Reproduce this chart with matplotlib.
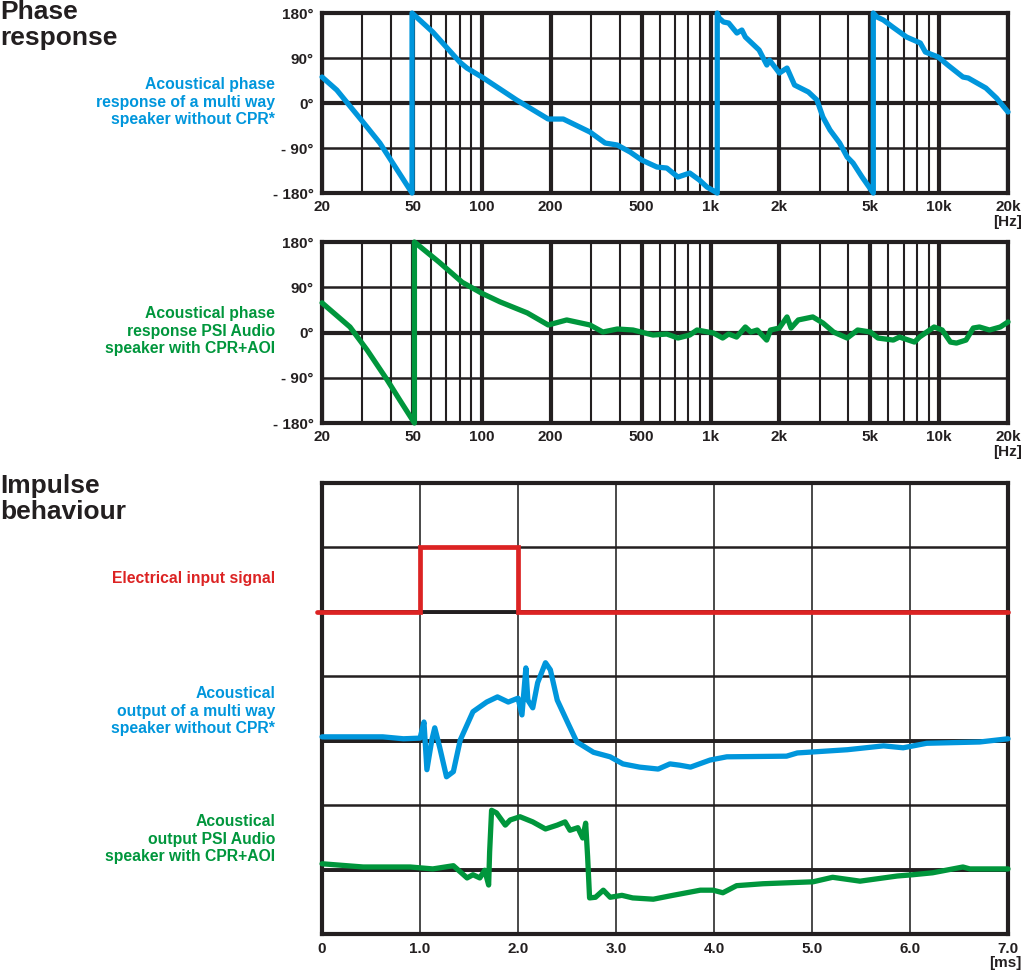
"""
Phase response and impulse behaviour chart (multi way speaker vs. PSI Audio CPR+AOI)
"""

import matplotlib
matplotlib.use('Agg')
import matplotlib.pyplot as plt

plt.rcParams['font.family'] = ['Liberation Sans', 'DejaVu Sans']
plt.rcParams['font.weight'] = 'bold'

INK = "#231f20"
BLUE = "#0096dc"
GREEN = "#00963c"
RED = "#dc2323"

# ---- phase response data (freq in Hz, phase in degrees) ----
freq_multi = [20, 23.2, 30.2, 35.8, 49.5, 49.5, 61, 80, 86, 100, 142, 195, 227,
              297, 346, 391, 445, 500, 583, 644, 720, 811, 894, 965, 1070, 1070,
              1090, 1140, 1200, 1304, 1371, 1420, 1631, 1763, 1810, 2000, 2160,
              2330, 2680, 2920, 3100, 3330, 3670, 3960, 4200, 4600, 5150, 5150,
              5350, 5700, 6260, 7200, 8270, 8700, 9900, 10900, 12700, 13400,
              16000, 17800, 20000]
phase_multi = [52, 26, -38, -80, -180, 180, 142, 82, 70, 52, 6, -32, -32,
               -58, -80, -84, -98, -114, -128, -130, -148, -140, -154, -168, -180, 180,
               170, 162, 160, 140, 146, 132, 106, 76, 86, 60, 70,
               36, 22, 6, -28, -54, -80, -108, -120, -148, -180, 180,
               172, 166, 152, 132, 120, 102, 92, 76, 52, 50,
               30, 10, -18]

freq_psi = [20, 26.5, 31.5, 38.5, 43.7, 50.7, 50.7, 65, 82, 100, 120, 158, 195,
            235, 297, 338, 391, 458, 560, 644, 720, 811, 873, 1030, 1130, 1200,
            1300, 1420, 1500, 1600, 1760, 1830, 2000, 2160, 2250, 2420, 2800,
            3100, 3450, 3960, 4400, 5000, 5400, 6300, 6700, 7800, 8200, 9500,
            10300, 11200, 11900, 13100, 14100, 15000, 16600, 18500, 20000]
phase_psi = [59, 11, -35, -94, -134, -180, 180, 140, 100, 78, 61, 39, 15,
             25, 15, 1, 7, 5, -5, -3, -11, -5, 5, -1, -11, -3,
             -9, 11, 1, 5, -15, 5, 9, 31, 9, 25, 31,
             19, 1, -11, 5, 1, -11, -15, -9, -19, -9, 11,
             5, -19, -21, -15, 9, 11, 5, 11, 21]

freq_ticks = [20, 50, 100, 200, 500, 1000, 2000, 5000, 10000, 20000]
freq_labels = ["20", "50", "100", "200", "500", "1k", "2k", "5k", "10k", "20k"]
freq_minor = [30, 40, 60, 70, 80, 90, 300, 400, 600, 700, 800, 900,
              3000, 4000, 6000, 7000, 8000, 9000]
phase_ticks = [-180, -90, 0, 90, 180]
phase_labels = ["- 180°", "- 90°", "0°", "90°", "180°"]

# ---- impulse data (time in ms, level in grid units) ----
t_input = [-0.05, 1.0, 1.0, 2.0, 2.0, 7.0]
v_input = [5, 5, 6, 6, 5, 5]

t_multi = [0, 0.32, 0.62, 0.83, 1.0, 1.04, 1.07, 1.12, 1.15, 1.2, 1.27, 1.34,
           1.41, 1.54, 1.68, 1.79, 1.9, 2.0, 2.04, 2.08, 2.1, 2.15, 2.2, 2.28,
           2.33, 2.4, 2.51, 2.6, 2.77, 2.94, 3.07, 3.24, 3.43, 3.55, 3.65, 3.76,
           3.96, 4.13, 4.74, 4.85, 5.36, 5.73, 5.93, 6.17, 6.71, 7.0]
v_multi = [3.06, 3.06, 3.06, 3.03, 3.04, 3.29, 2.55, 3.01, 3.2, 2.9, 2.44, 2.52,
           3.01, 3.45, 3.6, 3.68, 3.6, 3.66, 3.4, 4.13, 3.63, 3.51, 3.9, 4.21,
           4.1, 3.63, 3.27, 2.98, 2.82, 2.75, 2.64, 2.59, 2.56, 2.64, 2.62, 2.59,
           2.7, 2.75, 2.76, 2.81, 2.86, 2.92, 2.89, 2.96, 2.98, 3.03]

t_psi = [0, 0.42, 0.9, 1.13, 1.34, 1.48, 1.54, 1.61, 1.66, 1.7, 1.71, 1.73,
         1.78, 1.87, 1.92, 2.02, 2.15, 2.28, 2.4, 2.48, 2.53, 2.61, 2.66, 2.69,
         2.71, 2.73, 2.79, 2.87, 2.94, 3.06, 3.17, 3.38, 3.58, 3.86, 3.99, 4.09,
         4.23, 4.5, 5.01, 5.21, 5.49, 5.87, 6.03, 6.23, 6.54, 6.61, 7.0]
v_psi = [1.09, 1.04, 1.04, 1.01, 1.06, 0.87, 0.92, 0.87, 0.99, 0.76, 1.27, 1.92,
         1.88, 1.69, 1.77, 1.82, 1.74, 1.63, 1.69, 1.74, 1.61, 1.65, 1.49, 1.72,
         1.2, 0.56, 0.57, 0.68, 0.57, 0.6, 0.56, 0.54, 0.6, 0.68, 0.68, 0.64,
         0.75, 0.78, 0.81, 0.88, 0.82, 0.9, 0.92, 0.95, 1.04, 1.01, 1.01]

time_ticks = [0, 1, 2, 3, 4, 5, 6, 7]
time_labels = ["0", "1.0", "2.0", "3.0", "4.0", "5.0", "6.0", "7.0"]


def style_frame(ax):
    for sp in ax.spines.values():
        sp.set_color(INK)
        sp.set_linewidth(3.0)
        sp.set_zorder(5)
    ax.tick_params(which="both", length=0, labelsize=11, colors=INK)


def phase_axes(fig, rect, freq, phase, color):
    ax = fig.add_axes(rect)
    ax.set_xscale("log")
    ax.set_xlim(20, 20000)
    ax.set_ylim(-180, 180)
    ax.set_xticks(freq_ticks)
    ax.set_xticklabels(freq_labels, fontweight="bold")
    ax.set_xticks(freq_minor, minor=True)
    ax.set_xticklabels([], minor=True)
    ax.set_yticks(phase_ticks)
    ax.set_yticklabels(phase_labels, fontweight="bold")
    ax.grid(True, which="major", axis="x", color=INK, linewidth=3.0)
    ax.grid(True, which="minor", axis="x", color=INK, linewidth=1.5)
    ax.grid(True, which="major", axis="y", color=INK, linewidth=1.8)
    ax.axhline(0, color=INK, linewidth=3.0, zorder=1)
    ax.set_axisbelow(True)
    style_frame(ax)
    ax.tick_params(axis="x", pad=5)
    ax.tick_params(axis="y", pad=6)
    ax.plot(freq, phase, color=color, linewidth=3.8, solid_joinstyle="round",
            solid_capstyle="round", clip_on=False, zorder=6)
    ax.text(1.02, -0.16, "[Hz]", transform=ax.transAxes, ha="right", va="center",
            fontsize=11, fontweight="bold", color=INK)
    return ax


fig = plt.figure(figsize=(10.24, 9.72), dpi=100)

ax1 = phase_axes(fig, [0.3145, 0.8014, 0.6699, 0.1852], freq_multi, phase_multi, BLUE)
ax2 = phase_axes(fig, [0.3145, 0.5648, 0.6699, 0.1862], freq_psi, phase_psi, GREEN)

# impulse panel
ax3 = fig.add_axes([0.3145, 0.0391, 0.6699, 0.4640])
ax3.set_xlim(0, 7)
ax3.set_ylim(0, 7)
ax3.set_xticks(time_ticks)
ax3.set_xticklabels(time_labels, fontweight="bold")
ax3.set_yticks(range(8))
ax3.set_yticklabels([])
ax3.grid(True, axis="x", color="#3a3a3a", linewidth=1.3)
ax3.grid(True, axis="y", color=INK, linewidth=1.8)
for lvl in (1, 3, 5):
    ax3.axhline(lvl, color=INK, linewidth=2.8, zorder=1)
ax3.set_axisbelow(True)
style_frame(ax3)
ax3.tick_params(axis="x", pad=6)
ax3.plot(t_input, v_input, color=RED, linewidth=3.4, solid_joinstyle="miter",
         solid_capstyle="round", clip_on=False, zorder=6)
ax3.plot(t_multi, v_multi, color=BLUE, linewidth=3.8, solid_joinstyle="round",
         solid_capstyle="round", clip_on=False, zorder=6)
ax3.plot(t_psi, v_psi, color=GREEN, linewidth=3.8, solid_joinstyle="round",
         solid_capstyle="round", clip_on=False, zorder=6)
ax3.text(1.02, -0.064, "[ms]", transform=ax3.transAxes, ha="right", va="center",
         fontsize=11, fontweight="bold", color=INK)

# headings and curve labels
fig.text(0.0, 1.0, "Phase\nresponse", ha="left", va="top", fontsize=19,
         fontweight="bold", color=INK, linespacing=1.1)
fig.text(0.0, 1 - 474 / 972, "Impulse\nbehaviour", ha="left", va="top", fontsize=19,
         fontweight="bold", color=INK, linespacing=1.1)

label_x = 275 / 1024
label_kw = dict(ha="right", va="center", fontsize=11.3, fontweight="bold", linespacing=1.2)
fig.text(label_x, 1 - 102 / 972, "Acoustical phase\nresponse of a multi way\nspeaker without CPR*",
         color=BLUE, **label_kw)
fig.text(label_x, 1 - 331 / 972, "Acoustical phase\nresponse PSI Audio\nspeaker with CPR+AOI",
         color=GREEN, **label_kw)
fig.text(label_x, 1 - 578 / 972, "Electrical input signal", color=RED, **label_kw)
fig.text(label_x, 1 - 711 / 972, "Acoustical\noutput of a multi way\nspeaker without CPR*",
         color=BLUE, **label_kw)
fig.text(label_x, 1 - 839 / 972, "Acoustical\noutput PSI Audio\nspeaker with CPR+AOI",
         color=GREEN, **label_kw)

fig.savefig("out.png", dpi=100)
